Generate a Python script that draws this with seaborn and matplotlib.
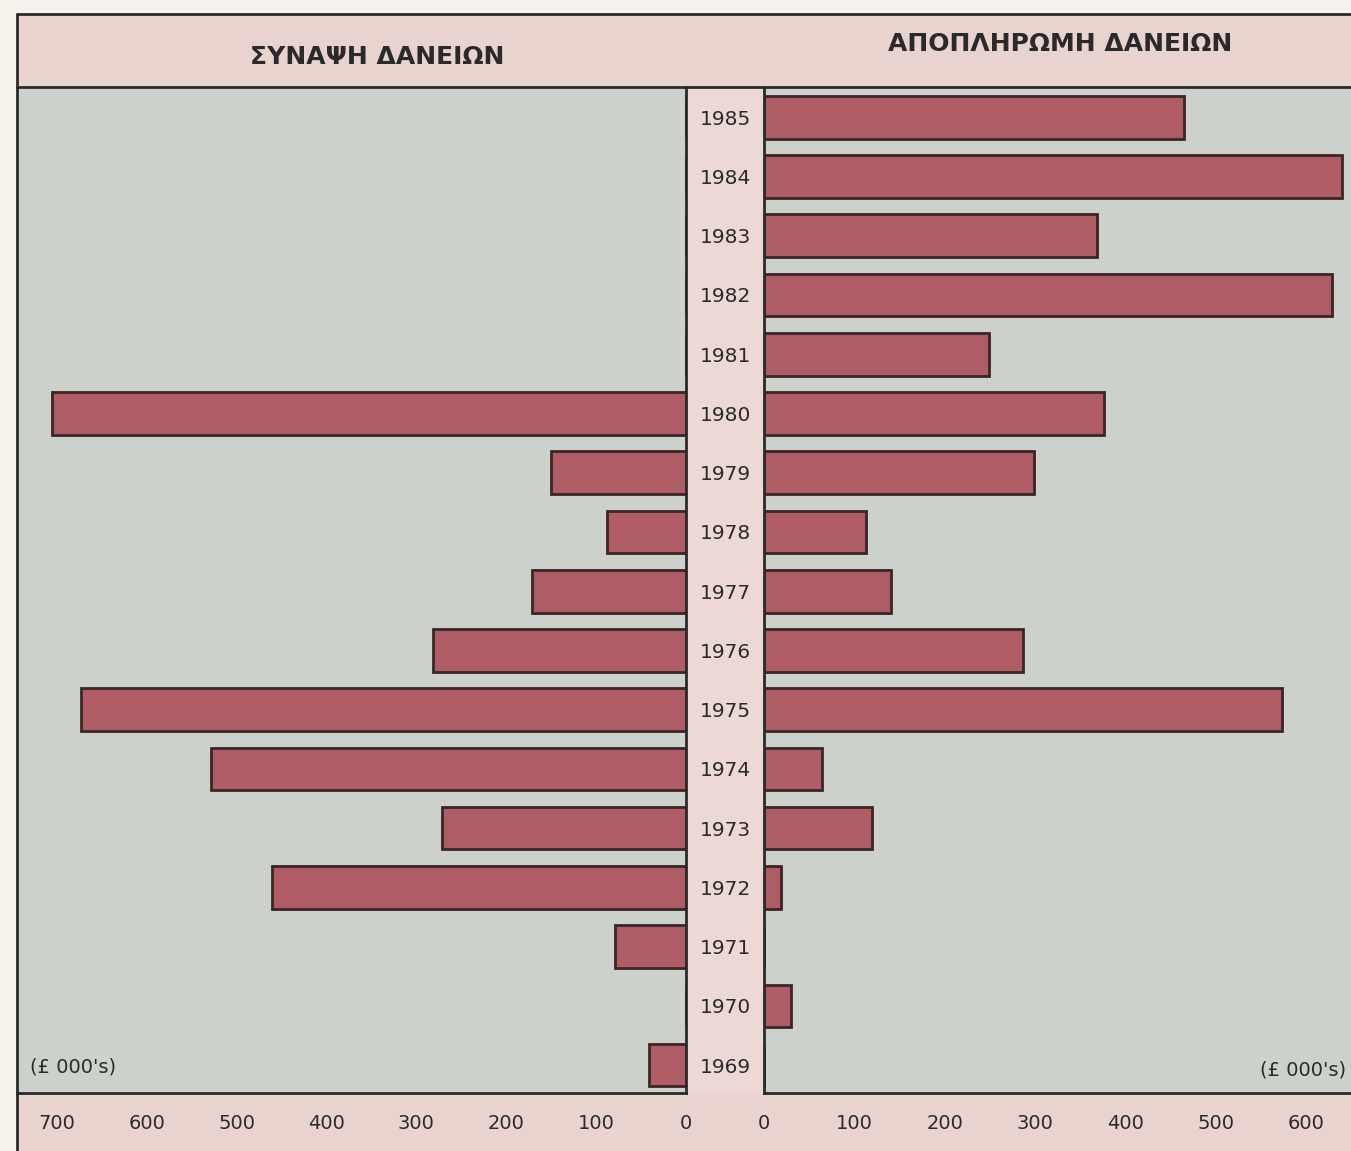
import matplotlib
matplotlib.use("Agg")
import matplotlib.pyplot as plt
from matplotlib.patches import Rectangle
from matplotlib.lines import Line2D
import seaborn as sns
import pandas as pd

# ---- data (£ 000's) ----
years = ["1985", "1984", "1983", "1982", "1981", "1980", "1979", "1978", "1977",
         "1976", "1975", "1974", "1973", "1972", "1971", "1970", "1969"]
loans_taken = [0, 0, 0, 0, 0, 705, 150, 88, 171, 282, 673, 529, 272, 461, 79, 0, 41]
loans_repaid = [465, 639, 368, 628, 249, 376, 299, 113, 140, 287, 573, 64, 120, 19, 0, 30, 0]
left_ticks = [0, 100, 200, 300, 400, 500, 600, 700]
right_ticks = [0, 100, 200, 300, 400, 500, 600]
title_left = "ΣΥΝΑΨΗ ΔΑΝΕΙΩΝ"
title_right = "ΑΠΟΠΛΗΡΩΜΗ ΔΑΝΕΙΩΝ"
unit_label = "(£ 000's)"

df = pd.DataFrame({"year": years, "taken": loans_taken, "repaid": loans_repaid})

# ---- style ----
W, H = 1351, 1151
BAR = "#b05c64"
EDGE = "#3a2628"
GRAY = "#cdd1cb"
PINK = "#e9d3cf"
STRIP = "#ecd8d5"
PAPER = "#f4f2ea"
INK = "#2a2a2a"

sns.set_style("white")
plt.rcParams["font.family"] = ["DejaVu Sans"]


def fx(px):
    return px / W


def fy(py):
    return 1 - py / H


fig = plt.figure(figsize=(W / 100, H / 100), dpi=100)
fig.patch.set_facecolor(PAPER)

# background bands
fig.add_artist(Rectangle((fx(17), fy(87)), fx(W - 17), (87 - 14) / H,
                         transform=fig.transFigure, facecolor=PINK, edgecolor="none", zorder=-10))
fig.add_artist(Rectangle((fx(17), 0), fx(W - 17), (H - 1093) / H,
                         transform=fig.transFigure, facecolor=PINK, edgecolor="none", zorder=-10))
fig.add_artist(Rectangle((fx(686), fy(1093)), fx(764 - 686), (1093 - 87) / H,
                         transform=fig.transFigure, facecolor=STRIP, edgecolor="none", zorder=-10))

ax_bottom = fy(1093)
ax_height = (1093 - 87) / H
axL = fig.add_axes([fx(17), ax_bottom, fx(686 - 17), ax_height])
axR = fig.add_axes([fx(764), ax_bottom, fx(W - 764), ax_height])

LSCALE = 0.8986  # px per unit, left
RSCALE = 0.904   # px per unit, right
ylim = (16.47, -0.51)

for ax, col, ticks, lim in [
    (axL, "taken", left_ticks, ((686 - 17) / LSCALE, 0)),
    (axR, "repaid", right_ticks, (0, (W - 764) / RSCALE)),
]:
    ax.set_facecolor(GRAY)
    sns.barplot(data=df, x=col, y="year", order=years, ax=ax, color=BAR,
                saturation=1, edgecolor=EDGE, linewidth=2, width=0.72,
                orient="h", errorbar=None)
    ax.set_xlim(*lim)
    ax.set_ylim(*ylim)
    ax.set_xticks(ticks)
    ax.set_xticklabels([str(t) for t in ticks])
    ax.set_xlabel("")
    ax.set_ylabel("")
    ax.tick_params(axis="x", direction="out", length=9, width=1.5, color=INK,
                   labelsize=14, labelcolor=INK, pad=6)
    for s in ax.spines.values():
        s.set_color(INK)
        s.set_linewidth(2)
    ax.spines["top"].set_visible(False)

axL.spines["left"].set_visible(False)
axL.set_yticks([])
axR.spines["right"].set_visible(False)
axR.tick_params(axis="y", length=0, pad=28, labelsize=14.5, labelcolor=INK)
for lab in axR.get_yticklabels():
    lab.set_ha("center")

# frame lines
for (x0, y0, x1, y1) in [(17, 14, W, 14), (17, 87, W, 87), (17, 14, 17, H)]:
    fig.add_artist(Line2D([fx(x0), fx(x1)], [fy(y0), fy(y1)], transform=fig.transFigure,
                          color=INK, linewidth=2, zorder=20))

# titles
fig.text(fx(377), fy(57), title_left, ha="center", va="center", fontsize=18,
         fontweight="bold", color=INK)
fig.text(fx(1060), fy(44), title_right, ha="center", va="center", fontsize=18,
         fontweight="bold", color=INK)

# units
fig.text(fx(30), fy(1067), unit_label, ha="left", va="center", fontsize=14, color=INK)
fig.text(fx(1346), fy(1070), unit_label, ha="right", va="center", fontsize=14, color=INK)

fig.savefig("out.png", dpi=100, facecolor=fig.get_facecolor())
